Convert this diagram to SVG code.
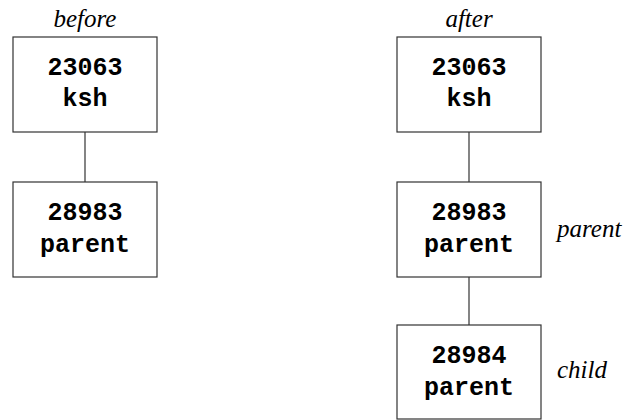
<svg xmlns="http://www.w3.org/2000/svg" width="626" height="420" viewBox="0 0 626 420">
<style>
.box{fill:#fff;stroke:#333;stroke-width:1.2}
.t{font-family:"Liberation Mono","Courier New",monospace;font-weight:bold;font-size:25px;text-anchor:middle;fill:#000}
.lbl{font-family:"Liberation Serif","Times New Roman",serif;font-style:italic;font-size:25px;fill:#000}
.c{stroke:#333;stroke-width:1.2;fill:none}
</style>
<rect width="626" height="420" fill="#fff"/>
<text class="lbl" x="85" y="27" text-anchor="middle">before</text>
<text class="lbl" x="469" y="27" text-anchor="middle">after</text>
<g id="connectors">
<line class="c" x1="85" y1="132" x2="85" y2="182"/>
<line class="c" x1="469" y1="132" x2="469" y2="182"/>
<line class="c" x1="469" y1="277" x2="469" y2="325"/>
</g>
<g id="before-ksh">
<rect class="box" x="13" y="37" width="144" height="95"/>
<text class="t" x="85" y="75">23063</text>
<text class="t" x="85" y="106">ksh</text>
</g>
<g id="before-parent">
<rect class="box" x="13" y="182" width="144" height="95"/>
<text class="t" x="85" y="220">28983</text>
<text class="t" x="85" y="252">parent</text>
</g>
<g id="after-ksh">
<rect class="box" x="397" y="37" width="144" height="95"/>
<text class="t" x="469" y="75">23063</text>
<text class="t" x="469" y="106">ksh</text>
</g>
<g id="after-parent">
<rect class="box" x="397" y="182" width="144" height="95"/>
<text class="t" x="469" y="220">28983</text>
<text class="t" x="469" y="252">parent</text>
<text class="lbl" x="557" y="237">parent</text>
</g>
<g id="after-child">
<rect class="box" x="397" y="325" width="144" height="94"/>
<text class="t" x="469" y="363">28984</text>
<text class="t" x="469" y="395">parent</text>
<text class="lbl" x="557" y="378">child</text>
</g>
</svg>
